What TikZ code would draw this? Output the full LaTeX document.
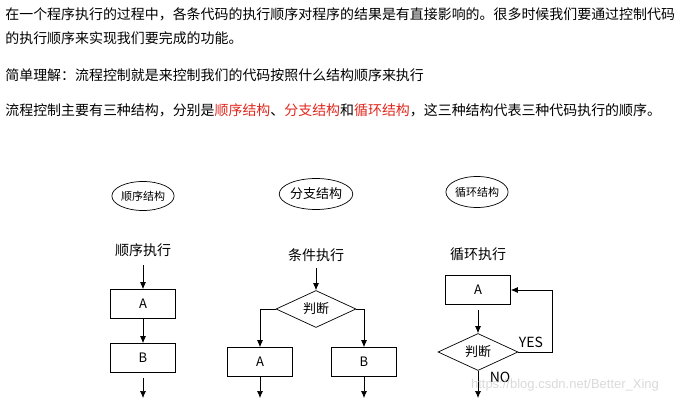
\documentclass[tikz,border=0pt]{standalone}
\usepackage{fontspec}
\setmainfont{Noto Sans CJK SC}
\usetikzlibrary{shapes.geometric,arrows.meta}
\definecolor{rd}{HTML}{E0281E}
\begin{document}
\begin{tikzpicture}[x=1pt,y=-1pt,
 txt/.style={anchor=west,inner sep=0,font=\fontsize{13.95}{15}\selectfont},
 ell/.style={ellipse,draw,minimum width=62,minimum height=29,inner sep=0,font=\fontsize{11}{12}\selectfont},
 lbl/.style={inner sep=0,font=\fontsize{14}{15}\selectfont},
 box/.style={draw,minimum width=65,minimum height=29,inner sep=0,font=\fontsize{13}{14}\selectfont},
 dia/.style={diamond,draw,aspect=2.2,minimum width=80,minimum height=37,inner sep=0,font=\fontsize{13}{14}\selectfont},
 ar/.style={-{Latex[length=7pt,width=6pt]},line width=0.7pt},
 every path/.style={line width=0.7pt}]
\useasboundingbox (0,0) rectangle (679,406);
\node[txt] at (5,14) {在一个程序执行的过程中，各条代码的执行顺序对程序的结果是有直接影响的。很多时候我们要通过控制代码};
\node[txt] at (5,38) {的执行顺序来实现我们要完成的功能。};
\node[txt] at (5,75) {简单理解：流程控制就是来控制我们的代码按照什么结构顺序来执行};
\node[txt] at (5,110) {流程控制主要有三种结构，分别是\textcolor{rd}{顺序结构}、\textcolor{rd}{分支结构}和\textcolor{rd}{循环结构}，这三种结构代表三种代码执行的顺序。};
% col 1
\node[ell] (e1) at (143,196) {顺序结构};
\node[lbl] (t1) at (143,250) {顺序执行};
\coordinate (t1b) at (143,265);
\node[box] (a1) at (143,304) {A};
\node[box] (b1) at (143,358) {B};
\coordinate (o1) at (143,398);
\draw[ar] (t1b) -- (a1.north);
\draw[ar] (a1.south) -- (b1.north);
\draw[ar] (b1.south) ++(0,5) -- (o1);
% col 2
\node[ell,minimum width=66,minimum height=31,font=\fontsize{13}{14}\selectfont] (e2) at (316,194) {分支结构};
\node[lbl] (t2) at (316,255) {条件执行};
\coordinate (t2b) at (316,268);
\node[dia] (d2) at (316,309) {判断};
\node[box] (a2) at (260,362) {A};
\node[box] (b2) at (364,362) {B};
\draw[ar] (t2b) -- (d2.north);
\draw[ar] (d2.west) -| (a2.north);
\draw[ar] (d2.east) -| (b2.north);
\coordinate (o2a) at (260,398);
\coordinate (o2b) at (364,398);
\draw[ar] (a2.south) -- (o2a);
\draw[ar] (b2.south) -- (o2b);
% col 3
\node[ell,minimum height=31] (e3) at (477,192) {循环结构};
\node[lbl] (t3) at (478,254) {循环执行};
\node[box] (a3) at (478,290) {A};
\node[dia] (d3) at (478,352) {判断};
\draw[ar] (a3.south) ++(0,5) -- (d3.north);
\draw[ar] (d3.east) -- ++(34,0) |- (a3.east);
\node[lbl] at (531,342) {YES};
\node[lbl] at (500,377) {NO};
\coordinate (o3) at (478,398);
\draw[ar] (d3.south) -- (o3);
\node[inner sep=0,text=black!15,font=\fontsize{13}{14}\selectfont\fontspec{Liberation Sans}] at (565,385) {https://blog.csdn.net/Better\_Xing};
\end{tikzpicture}
\end{document}
